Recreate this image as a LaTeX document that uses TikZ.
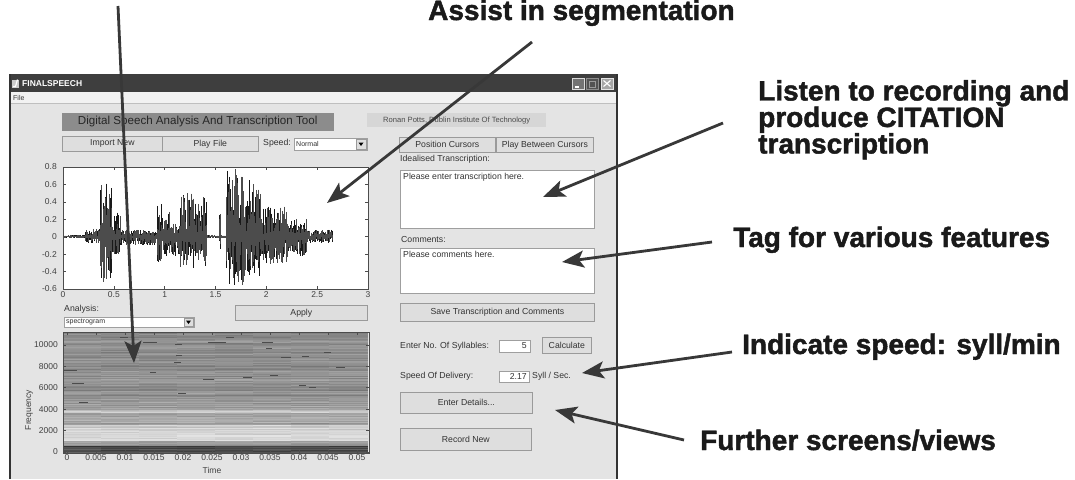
\documentclass[tikz,border=0pt]{standalone}
\usepackage{fontspec}
\setmainfont{Liberation Sans}
\newfontfamily\heavyfont[BoldFeatures={FakeBold=1.6}]{Liberation Sans}
\usetikzlibrary{arrows.meta}
\definecolor{winbg}{HTML}{E4E4E4}
\definecolor{titlebar}{HTML}{3E3E3E}
\definecolor{btnface}{HTML}{DEDEDE}
\definecolor{btnedge}{HTML}{9A9A9A}
\definecolor{arrowc}{HTML}{383838}
\definecolor{labelbox}{HTML}{8C8C8C}
\definecolor{infobox}{HTML}{D6D6D6}
\definecolor{inkc}{HTML}{1A1A1A}
\tikzset{
  gui/.style={font=\fontsize{8.7}{10}\selectfont, text=black!80, inner sep=0pt},
  small/.style={font=\fontsize{7}{8}\selectfont, text=black!80, inner sep=0pt},
  btn/.style={gui, draw=btnedge, fill=btnface, anchor=north west, line width=0.7pt},
  editbox/.style={draw=gray!75, fill=white, anchor=north west, line width=0.7pt, inner sep=0pt},
  ticklab/.style={font=\fontsize{8.5}{10}\selectfont, text=black!75, inner sep=0pt},
  axisbox/.style={draw=black!70, line width=0.6pt},
  tickmark/.style={draw=black!70, line width=0.5pt},
  wave/.style={draw=black!90, line width=0.7pt},
  callout/.style={draw=arrowc, line width=2.8pt, -{Stealth[length=22pt,width=17pt,inset=5pt]}},
  bigtext/.style={font=\fontsize{28}{26.5}\heavyfont\bfseries, text=inkc, inner sep=0pt, align=left},
  winbtn/.style={minimum width=12pt, minimum height=11pt, anchor=north west, inner sep=0pt, line width=0.6pt},
}
\begin{document}
\begin{tikzpicture}[x=1pt,y=-1pt]
\useasboundingbox (0,0) rectangle (1075,479);
\fill[white] (0,0) rectangle (1075,479);
\pgfmathsetseed{7}
% ---------- window frame ----------
\fill[winbg] (9,74) rectangle (617,479);
\fill[titlebar] (9,74) rectangle (617,92);
\fill[black!5] (10,92) rectangle (616,103);
\draw[black!25, line width=0.5pt] (10,103.5) -- (616,103.5);
\draw[black!80, line width=2pt] (10,74) -- (10,479);
\draw[black!80, line width=1.5pt] (617,74) -- (617,479);
% title bar icon and text
\fill[black!20] (12,80) rectangle (19,88);
\draw[white, line width=1.2pt] (13,86.5) -- (15.5,86.5) -- (17.5,79.5);
\node[font=\fontsize{8.5}{9}\selectfont\bfseries, text=white, anchor=west, inner sep=0pt] (wtitle) at (22,83.5) {FINALSPEECH};
\node[winbtn, draw=black!15, fill=black!55] (wmin) at (572,78) {};
\draw[white, line width=1.2pt] (575,87) -- (579,87);
\node[winbtn, draw=black!45, fill=black!68] (wmax) at (586,78) {};
\draw[black!40, line width=0.6pt] (589,81) rectangle (595,87);
\node[winbtn, draw=black!10, fill=black!35] (wclose) at (601,78) {};
\draw[white, line width=1.1pt] (603.5,80.5) -- (610.5,86.5) (610.5,80.5) -- (603.5,86.5);
\node[small, anchor=west] (menufile) at (13,98) {File};
% ---------- header ----------
\node[fill=labelbox, draw=black!45, minimum width=271pt, minimum height=17pt, anchor=north west, font=\fontsize{11.6}{13}\selectfont, text=black!85, inner sep=0pt] (apptitle) at (62,113) {Digital Speech Analysis And Transcription Tool};
\node[fill=infobox, minimum width=179pt, minimum height=14pt, anchor=north west, font=\fontsize{7.6}{9}\selectfont, text=black!70, inner sep=0pt] (author) at (367,113) {Ronan Potts, Dublin Institute Of Technology};
% ---------- button row ----------
\node[btn, minimum width=100pt, minimum height=15pt] (bimport) at (62,136) {Import New};
\node[btn, minimum width=96pt, minimum height=15pt] (bplay) at (162,136) {Play File};
\node[gui, anchor=west] (speedlab) at (263,143.5) {Speed:};
\node[editbox, minimum width=73pt, minimum height=12pt] (speeddd) at (294,138) {};
\node[small, anchor=west] (speedval) at (296,144) {Normal};
\node[btn, minimum width=10pt, minimum height=10pt] (speedarr) at (356,139) {};
\fill[black] (358.5,142.5) -- (363.5,142.5) -- (361,146) -- cycle;
\node[btn, minimum width=96pt, minimum height=15pt] (bpos) at (399,137) {Position Cursors};
\node[btn, minimum width=97pt, minimum height=15pt] (bplaybtw) at (496,137) {Play Between Cursors};
% ---------- waveform plot ----------
\fill[white] (63,167) rectangle (368,289);
\begin{scope}
\clip (63,167) rectangle (368,289);
\draw[black!80, line width=0.6pt] (63,236.7) -- (332,236.7);
\foreach \a/\b/\u/\d in {63/84/0.02/0.02, 85/99/0.1/0.08, 100/104/0.8/0.6, 105/111/0.65/0.5, 112/120/0.28/0.2, 121/156/0.08/0.1, 157/169/0.38/0.32, 170/179/0.16/0.22, 180/193/0.52/0.4, 194/206/0.47/0.35, 207/218/0.02/0.02, 219/220/0.38/0.18, 221/225/0.02/0.02, 226/243/0.8/0.56, 244/260/0.65/0.45, 261/287/0.35/0.32, 288/306/0.2/0.24, 307/332/0.08/0.07}{
  \foreach \p in {\a,...,\b}{
    \pgfmathsetmacro\ru{236.7-87.1*\u*(0.15+0.85*rnd)}
    \pgfmathsetmacro\rd{236.7+87.1*\d*(0.15+0.85*rnd)}
    \draw[wave] (\p,\ru) -- (\p,\rd);
    \pgfmathsetmacro\su{236.7-87.1*\u*(0.1+0.9*rnd)}
    \pgfmathsetmacro\sd{236.7+87.1*\d*(0.1+0.9*rnd)}
    \draw[wave, draw=black!70] (\p+0.5,\su) -- (\p+0.5,\sd);
  }
}
\end{scope}
\draw[axisbox] (63,167) rectangle (368,289);
\foreach \v/\lab in {0.8/0.8, 0.6/0.6, 0.4/0.4, 0.2/0.2, 0/0, -0.2/-0.2, -0.4/-0.4, -0.6/-0.6}{
  \pgfmathsetmacro\yv{236.7-87.1*\v}
  \draw[tickmark] (63,\yv) -- (66,\yv) (368,\yv) -- (365,\yv);
  \node[ticklab, anchor=east] at (57,\yv) {\lab};
}
\foreach \t/\lab in {0/0, 0.5/0.5, 1/1, 1.5/1.5, 2/2, 2.5/2.5, 3/3}{
  \pgfmathsetmacro\xv{63+101.67*\t}
  \draw[tickmark] (\xv,289) -- (\xv,286) (\xv,167) -- (\xv,170);
  \node[ticklab, anchor=north] at (\xv,291.5) {\lab};
}
% ---------- analysis controls ----------
\node[gui, anchor=west] (analab) at (64,309) {Analysis:};
\node[editbox, minimum width=130pt, minimum height=10pt] (anadd) at (64,317) {};
\node[small, anchor=west] (anaval) at (66,322) {spectrogram};
\node[btn, minimum width=9pt, minimum height=8pt] (anaarr) at (184,318) {};
\fill[black] (186,320.5) -- (191,320.5) -- (188.5,324) -- cycle;
\node[btn, minimum width=132pt, minimum height=15pt] (bapply) at (235,305) {Apply};
% ---------- spectrogram ----------
\begin{scope}
\clip (63,332) rectangle (369,453);
\foreach \yy in {332,...,452}{
  \pgfmathsetmacro\base{(\yy<400)?56:((\yy<410)?62:((\yy<413)?78:((\yy<425)?63:((\yy<441)?82:((\yy<446)?58:30)))))}
  \pgfmathsetmacro\rowv{\base+14*(rnd-0.5)}
  \foreach \xs in {63,101,139,177,215,253,291,329}{
    \pgfmathsetmacro\lev{min(95,max(15,\rowv+8*(rnd-0.5)))}
    \fill[white!\lev!black] (\xs,\yy) rectangle ++(39,1.1);
  }
}
\foreach \xa/\xb/\yd in {64/77/370, 72/84/383, 79/88/402, 143/157/342, 175/182/344, 174/181/362, 176/182/355, 178/186/393, 203/214/379, 208/226/342, 262/273/342, 266/272/348, 281/291/357, 302/309/356, 299/306/385, 309/316/387, 324/331/352, 243/252/377, 226/234/337, 336/345/367, 120/128/337, 150/156/372, 270/278/375}{
  \draw[black!70, line width=0.8pt] (\xa,\yd) -- (\xb,\yd);
}
\end{scope}
\draw[axisbox] (63,332) rectangle (369,453);
\foreach \f/\lab in {0/0, 2000/2000, 4000/4000, 6000/6000, 8000/8000, 10000/10000}{
  \pgfmathsetmacro\yv{452-\f*0.01071}
  \draw[tickmark] (63,\yv) -- (66,\yv) (369,\yv) -- (366,\yv);
  \node[ticklab, anchor=east] at (58,\yv) {\lab};
}
\foreach \t/\lab in {0/0, 1/0.005, 2/0.01, 3/0.015, 4/0.02, 5/0.025, 6/0.03, 7/0.035, 8/0.04, 9/0.045, 10/0.05}{
  \pgfmathsetmacro\xv{67+29*\t}
  \draw[tickmark] (\xv,453) -- (\xv,450) (\xv,332) -- (\xv,335);
  \node[ticklab, anchor=north] at (\xv,454.5) {\lab};
}
\node[ticklab] (timelab) at (212,470) {Time};
\node[ticklab, rotate=90] (freqlab) at (29,410) {Frequency};
% ---------- right panel ----------
\node[gui, anchor=west] (ideallab) at (400,159.5) {Idealised Transcription:};
\node[editbox, minimum width=194pt, minimum height=58pt] (idealbox) at (400,170) {};
\node[gui, anchor=north west] (idealtxt) at (403,173) {Please enter transcription here.};
\node[gui, anchor=west] (comlab) at (401,240) {Comments:};
\node[editbox, minimum width=194pt, minimum height=45pt] (combox) at (400,248) {};
\node[gui, anchor=north west] (comtxt) at (403,251) {Please comments here.};
\node[btn, minimum width=194pt, minimum height=18pt] (bsave) at (400,303) {Save Transcription and Comments};
\node[gui, anchor=west] (syllab) at (400,346) {Enter No. Of Syllables:};
\node[editbox, minimum width=31pt, minimum height=12pt] (syllbox) at (499,340) {};
\node[gui, anchor=east] (syllval) at (527,346) {5};
\node[btn, minimum width=49pt, minimum height=16pt] (bcalc) at (542,337) {Calculate};
\node[gui, anchor=west] (spdlab) at (400,376) {Speed Of Delivery:};
\node[editbox, minimum width=30pt, minimum height=11pt] (spdbox) at (499,371) {};
\node[gui, anchor=east] (spdval) at (527,376.5) {2.17};
\node[gui, anchor=west] (spdunit) at (532,376) {Syll / Sec.};
\node[btn, minimum width=132pt, minimum height=21pt] (bdetails) at (400,392) {Enter Details...};
\node[btn, minimum width=131pt, minimum height=22pt] (brecord) at (400,428) {Record New};
% ---------- callout texts ----------
\node[bigtext, anchor=base west] (tassist) at (428,20) {Assist in segmentation};
\node[bigtext, anchor=north west] (tlisten) at (758,80) {Listen to recording and\\produce CITATION\\transcription};
\node[bigtext, anchor=base west] (ttag) at (733,247) {Tag for various features};
\node[bigtext, anchor=base west] (tspeed) at (742,354) {Indicate speed: syll/min};
\node[bigtext, anchor=base west] (tfurther) at (700,450) {Further screens/views};
% ---------- callout arrows ----------
\coordinate (aSegS) at (118,6);
\coordinate (aSegT) at (134,363);
\coordinate (aAssistS) at (532,42);
\coordinate (aAssistT) at (327,203);
\coordinate (aListenS) at (723,123);
\coordinate (aListenT) at (543,197);
\coordinate (aTagS) at (712,242);
\coordinate (aTagT) at (562,262);
\coordinate (aSpeedS) at (732,352);
\coordinate (aSpeedT) at (582,373);
\coordinate (aFurtherS) at (684,440);
\coordinate (aFurtherT) at (555,410);
\draw[callout] (aSegS) -- (aSegT);
\draw[callout] (aAssistS) -- (aAssistT);
\draw[callout] (aListenS) -- (aListenT);
\draw[callout] (aTagS) -- (aTagT);
\draw[callout] (aSpeedS) -- (aSpeedT);
\draw[callout] (aFurtherS) -- (aFurtherT);
\end{tikzpicture}
\end{document}
